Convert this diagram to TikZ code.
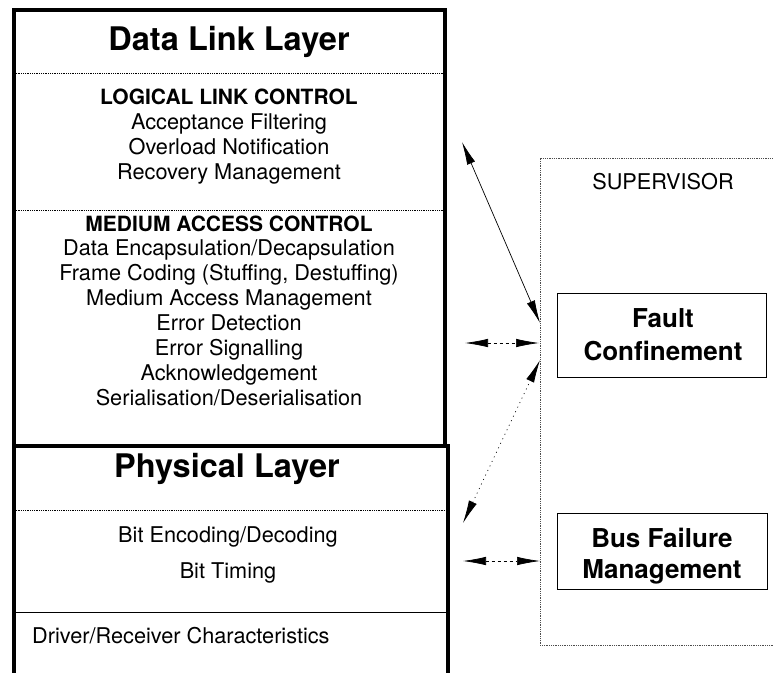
\documentclass[tikz,border=0pt]{standalone}
\usepackage{fontspec}
\setmainfont{TeX Gyre Heros}
\usetikzlibrary{arrows.meta}
\tikzset{
  thickbox/.style={line width=4pt},
  divdot/.style={line width=0.7pt, dash pattern=on 1pt off 0.8pt},
  divsolid/.style={line width=0.8pt},
  superbox/.style={line width=0.7pt, dash pattern=on 1pt off 0.8pt, black!70},
  funcbox/.style={draw, line width=0.9pt},
  title/.style={font=\fontsize{32.5}{36}\selectfont\bfseries, anchor=base, inner sep=0pt},
  head/.style={font=\fontsize{21}{25}\selectfont\bfseries, anchor=base, inner sep=0pt},
  body/.style={font=\fontsize{21.7}{25}\selectfont, anchor=base, inner sep=0pt},
  boxtext/.style={font=\fontsize{26}{30}\selectfont\bfseries, anchor=base, inner sep=0pt},
  tip/.tip={Latex[length=23pt,width=8.5pt]},
  solidarrow/.style={tip-tip, line width=0.7pt},
  dasharrow/.style={tip-tip, line width=0.7pt, dash pattern=on 3pt off 3pt},
  dotarrow/.style={tip-tip, line width=0.7pt, dash pattern=on 1pt off 4pt},
}
\begin{document}
\begin{tikzpicture}[x=1pt,y=-1pt]
\useasboundingbox (0,0) rectangle (773,672);
\clip (0,0) rectangle (773,672);
\fill[white] (0,0) rectangle (773,672);

% Data Link Layer box
\draw[divdot] (14,73) -- (445,73);
\draw[divdot] (14,210) -- (445,210);
\node[title] (dll) at (229,50) {Data Link Layer};
\node[head] (llc) at (229,104) {LOGICAL LINK CONTROL};
\node[body] (llc1) at (229,129.5) {Acceptance Filtering};
\node[body] (llc2) at (229,154.5) {Overload Notification};
\node[body] (llc3) at (229,179.5) {Recovery Management};
\node[head] (mac) at (229,231) {MEDIUM ACCESS CONTROL};
\node[body] (mac1) at (229,255) {Data Encapsulation/Decapsulation};
\node[body] (mac2) at (229,280) {Frame Coding (Stuffing, Destuffing)};
\node[body] (mac3) at (229,305) {Medium Access Management};
\node[body] (mac4) at (229,330) {Error Detection};
\node[body] (mac5) at (229,355) {Error Signalling};
\node[body] (mac6) at (229,380) {Acknowledgement};
\node[body] (mac7) at (229,405) {Serialisation/Deserialisation};

% Physical Layer box
\draw[divdot] (14,510) -- (448,510);
\draw[divsolid] (14,612) -- (448,612);
\node[title] (pl) at (227,477) {Physical Layer};
\node[body] (pl1) at (228,542) {Bit Encoding/Decoding};
\node[body] (pl2) at (228,578) {Bit Timing};
\node[body, anchor=base west] (pl3) at (32,643) {Driver/Receiver Characteristics};

\draw[thickbox] (14,446) rectangle (448,700);
\draw[thickbox] (14,10) rectangle (445,446);

% Supervisor
\draw[superbox] (780,158) -- (540,158) -- (540,645) -- (780,645);
\node[body] (sup) at (663,189) {SUPERVISOR};

\node[funcbox, minimum width=209pt, minimum height=84pt] (fc) at (661.5,335) {};
\node[boxtext] (fc1) at (663,327) {Fault};
\node[boxtext] (fc2) at (663,360) {Confinement};

\node[funcbox, minimum width=210pt, minimum height=76pt] (bf) at (662,551) {};
\node[boxtext] (bf1) at (662,547) {Bus Failure};
\node[boxtext] (bf2) at (662,578) {Management};

% connectors
\coordinate (a1s) at (462,142);
\coordinate (a1e) at (540,323);
\coordinate (a2s) at (465,343);
\coordinate (a2e) at (539,343);
\coordinate (a3s) at (463,523);
\coordinate (a3e) at (540,360);
\coordinate (a4s) at (463,561);
\coordinate (a4e) at (540,561);
\draw[solidarrow] (a1s) -- (a1e);
\draw[dasharrow] (a2s) -- (a2e);
\draw[dotarrow] (a3s) -- (a3e);
\draw[dasharrow] (a4s) -- (a4e);
\end{tikzpicture}
\end{document}
